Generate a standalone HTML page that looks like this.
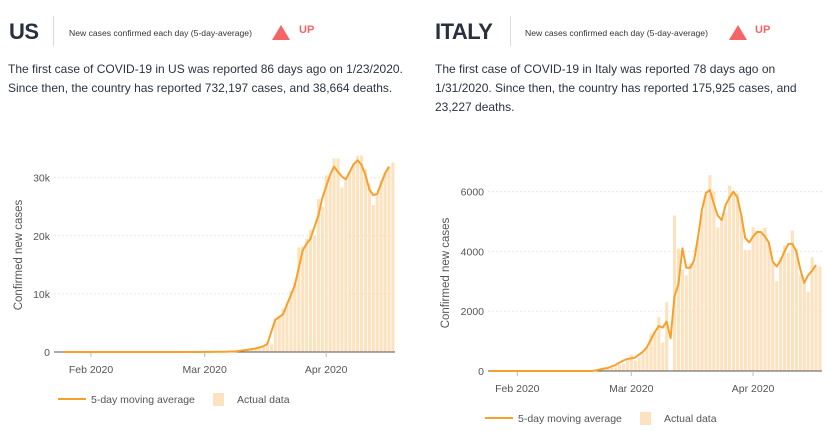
<!DOCTYPE html>
<html><head><meta charset="utf-8">
<style>
body{margin:0;width:839px;height:445px;background:#fff;overflow:hidden;font-family:"Liberation Sans",sans-serif;color:#2b3440;position:relative}
.abs{position:absolute;white-space:nowrap}
.title{font-weight:bold;font-size:22px;top:19px;color:#26313d;letter-spacing:-0.5px}
.sep{position:absolute;top:16px;width:1px;height:30px;background:#d8dce0}
.sub{font-size:8.6px;top:28px;color:#333}
.tri{position:absolute;top:25px;width:0;height:0;border-left:9px solid transparent;border-right:9px solid transparent;border-bottom:15px solid #f56565}
.up{font-size:11px;font-weight:bold;color:#f56565;top:24px}
.para{font-size:12px;line-height:19px;top:60px;color:#2b3440}
svg{position:absolute;left:0;top:0}
</style></head><body>
<div class="abs title" style="left:9px">US</div>
<div class="sep" style="left:53px"></div>
<div class="abs sub" style="left:69px">New cases confirmed each day (5-day-average)</div>
<div class="tri" style="left:272px"></div>
<div class="abs up" style="left:299px">UP</div>
<div class="abs para" style="left:8px">The first case of COVID-19 in US was reported 86 days ago on 1/23/2020.<br>Since then, the country has reported 732,197 cases, and 38,664 deaths.</div>

<div class="abs title" style="left:435px">ITALY</div>
<div class="sep" style="left:510px"></div>
<div class="abs sub" style="left:525px">New cases confirmed each day (5-day-average)</div>
<div class="tri" style="left:729px"></div>
<div class="abs up" style="left:755px">UP</div>
<div class="abs para" style="left:435px">The first case of COVID-19 in Italy was reported 78 days ago on<br>1/31/2020. Since then, the country has reported 175,925 cases, and<br>23,227 deaths.</div>

<svg id="chart" width="839" height="445"></svg>
<script>
// day index: days since Feb 1 2020
const xTickLabels = ["Feb 2020","Mar 2020","Apr 2020"];
const xTickDays = [0,29,60];
const usYTicks = [0,10,20,30];
const usYTickLabels = ["0","10k","20k","30k"];
const itYTicks = [0,2,4,6];
const itYTickLabels = ["0","2000","4000","6000"];

// US 5-day avg (thousands), from Jan 25 (day -7) to Apr 17
const usLineStart = -7;
const usLine = [0,0,0,0,0,0,0,
0,0,0,0,0,0,0,0,0,0,0,0,0,0,0,0,0,0,0,0,0,0,0,0,0,0,0,0,0,
0.01,0.02,0.02,0.03,0.04,0.05,0.07,0.08,0.1,
0.2,0.3,0.4,0.5,0.6,0.8,1.0,1.4,3.5,5.5,6,6.5,8.2,9.8,11.5,14.5,17.5,18.6,19.5,21.5,23.5,26.5,
28.5,30.5,31.9,31,30.2,29.7,31,32.3,33,32.2,30.5,28,27,27.2,29,30.7,31.9];
// US actual (thousands), from Mar 1 (day 29) to Apr 18
const usBarStart = 29;
const usBars = [0.02,0.02,0.03,0.05,0.07,0.1,0.12,0.15,0.2,
0.3,0.4,0.5,0.6,0.7,0.8,1.0,1.2,1.3,5.8,6.3,7.5,8.5,10.5,12,18,18.2,19.5,21,20,26.3,25,
30.4,30.5,33.3,33.3,28.3,29.5,31,32.5,33.8,33.8,31.5,29,25.3,27,29.5,31,32,32.6];

// Italy 5-day avg (thousands), from Jan 25 to Apr 17
const itLineStart = -7;
const itLine = [0,0,0,0,0,0,0,
0,0,0,0,0,0,0,0,0,0,0,0,0,0,0,0,0,0,0,
0,0.02,0.05,0.08,0.1,0.15,0.2,0.28,0.35,0.4,
0.42,0.45,0.55,0.65,0.8,1.05,1.3,1.5,1.45,1.65,1.1,2.5,2.9,4.1,3.45,3.45,3.7,4.5,5.4,5.95,6.05,5.6,5.2,5.05,5.55,5.8,6.0,5.8,5.2,4.45,4.3,
4.5,4.65,4.65,4.5,4.3,3.65,3.5,3.7,4.0,4.25,4.25,4.0,3.4,2.95,3.2,3.35,3.55];
// Italy actual (thousands), from Feb 21 (day 20) to Apr 18
const itBarStart = 20;
const itBars = [0.02,0.05,0.08,0.1,0.1,0.15,0.2,0.25,0.35,
0.55,0.35,0.45,0.6,0.8,1.25,1.3,1.8,0.95,2.3,0,5.2,4.1,3.4,3.2,3.6,3.6,4.4,5.3,5.9,6.55,6.0,4.8,5.1,5.3,6.2,6.0,5.95,5.2,4.05,4.05,
4.8,4.7,4.6,4.8,4.3,3.6,3.0,3.8,4.2,3.95,4.7,4.1,3.2,3.0,2.65,3.8,3.5,3.5];

const NS="http://www.w3.org/2000/svg";
const svg=document.getElementById('chart');
function mk(tag,attrs,parent){const e=document.createElementNS(NS,tag);for(const k in attrs)e.setAttribute(k,attrs[k]);(parent||svg).appendChild(e);return e;}

function drawChart(p){
  const g=mk('g',{});
  
  
  const x=d=>p.x0+d*p.dx;
  const y=v=>p.y0-v*p.dy;
  p.yTicks.forEach((t,i)=>{
    if(i>0){const gl=mk('line',{x1:p.left,x2:p.right,y1:y(t),y2:y(t),stroke:'#ebe6df','stroke-dasharray':'2,2','stroke-width':1},g);
    
    }
    const tl=mk('text',{x:p.left-4,y:y(t)+4,'text-anchor':'end','font-size':'10.5','fill':'#555','font-family':'Liberation Sans'},g);
    tl.textContent=p.yLabels[i];
    
    
  });
  p.bars.forEach((v,i)=>{
    const d=p.barStart+i;
    const r=mk('rect',{x:x(d)-1.5,y:y(v),width:3.1,height:Math.max(0,p.y0-y(v)),fill:'#fde2bf'},g);
    
    
  });
  const ax=mk('line',{x1:p.left,x2:p.right,y1:p.y0,y2:p.y0,stroke:'#555','stroke-width':1},g);
  
  
  xTickDays.forEach((d,i)=>{
    const tk=mk('line',{x1:x(d),x2:x(d),y1:p.y0,y2:p.y0+5,stroke:'#bbb'},g);
    
    
    const t=mk('text',{x:x(d),y:p.y0+21,'text-anchor':'middle','font-size':'10.5','fill':'#555','font-family':'Liberation Sans'},g);
    t.textContent=xTickLabels[i];
    
    
  });
  const pts=p.line.map((v,i)=>x(p.lineStart+i).toFixed(1)+','+y(v).toFixed(1)).join(' ');
  const pl=mk('polyline',{points:pts,fill:'none',stroke:'#f7a02b','stroke-width':2,'stroke-linejoin':'round'},g);
  
  
  const yt=mk('text',{x:p.ytX,y:p.ytY,transform:`rotate(-90 ${p.ytX} ${p.ytY})`,'text-anchor':'middle','font-size':'11.5','fill':'#555','font-family':'Liberation Sans'},g);
  yt.textContent='Confirmed new cases';
  
  
  const lg=mk('g',{},g);
  
  
  mk('line',{x1:p.lx,x2:p.lx+28,y1:p.ly,y2:p.ly,stroke:'#f7a02b','stroke-width':2},lg);
  const l1=mk('text',{x:p.lx+33,y:p.ly+4,'font-size':'10.5','fill':'#555','font-family':'Liberation Sans'},lg);
  l1.textContent='5-day moving average';
  
  
  mk('rect',{x:p.lx+155,y:p.ly-6,width:11,height:13,fill:'#fde2bf'},lg);
  const l2=mk('text',{x:p.lx+179,y:p.ly+4,'font-size':'10.5','fill':'#555','font-family':'Liberation Sans'},lg);
  l2.textContent='Actual data';
  
  
}

drawChart({id:'us',x0:91,dx:3.92,y0:352,dy:5.81,left:54,right:395,yTicks:usYTicks,yLabels:usYTickLabels,
  bars:usBars,barStart:usBarStart,line:usLine,lineStart:usLineStart,ytX:22,ytY:255,lx:58,ly:399});
drawChart({id:'italy',x0:517.3,dx:3.93,y0:371,dy:29.9,left:488,right:822,yTicks:itYTicks,yLabels:itYTickLabels,
  bars:itBars,barStart:itBarStart,line:itLine,lineStart:itLineStart,ytX:449,ytY:273,lx:485,ly:418});
</script>
</body></html>
